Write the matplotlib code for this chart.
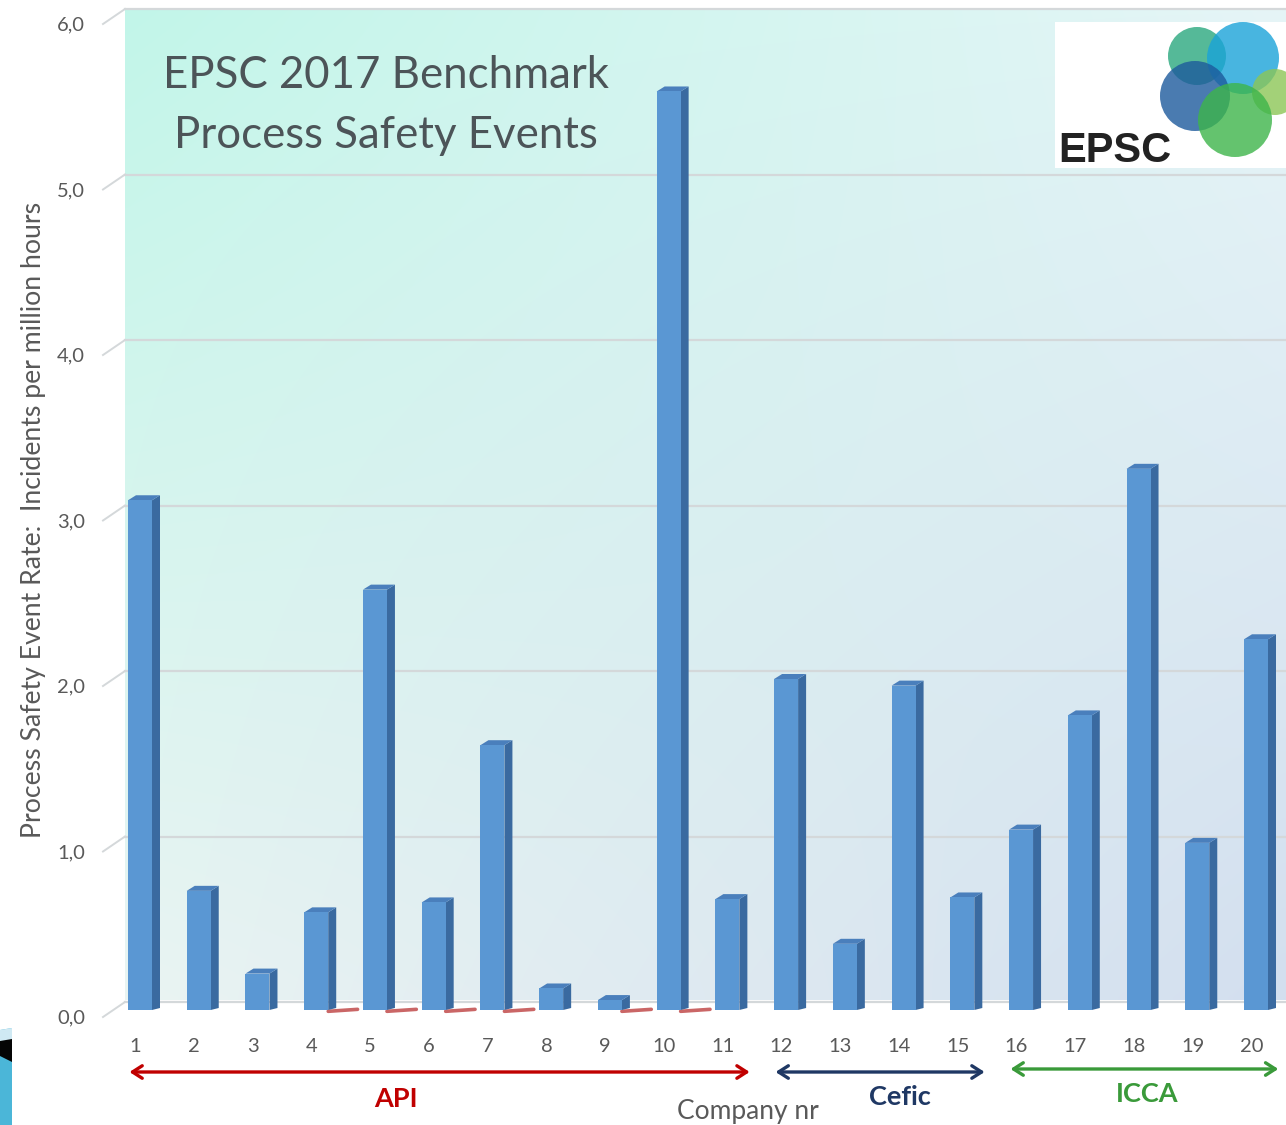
import matplotlib
matplotlib.use('Agg')
import matplotlib.pyplot as plt
import numpy as np
from matplotlib.patches import Rectangle, Polygon, Circle
from matplotlib.lines import Line2D
from matplotlib.transforms import offset_copy

# ---------------- data ----------------
companies = list(range(1, 21))
rates = [3.08, 0.72, 0.22, 0.59, 2.54, 0.65, 1.60, 0.13, 0.06, 5.55,
         0.67, 2.00, 0.40, 1.96, 0.68, 1.09, 1.78, 3.27, 1.01, 2.24]
yticks = [0, 1, 2, 3, 4, 5, 6]
ytick_labels = ['0,0', '1,0', '2,0', '3,0', '4,0', '5,0', '6,0']
groups = ['API', 'Cefic', 'ICCA']
group_first = [1, 12, 16]
group_last = [11, 15, 20]
group_colors = ['#c00000', '#1f3864', '#3a9a3a']
shadow_companies = [4, 5, 6, 7, 9, 10]

title_lines = ['EPSC 2017 Benchmark', 'Process Safety Events']
ylabel = 'Process Safety Event Rate:  Incidents per million hours'
xlabel = 'Company nr'

# ---------------- figure ----------------
W, H = 1286, 1125
fig = plt.figure(figsize=(W / 100, H / 100), dpi=100)
fig.patch.set_facecolor('white')
FONT = ['Lato', 'DejaVu Sans']
TXT = '#595959'

def fx(x):
    return x / W

def fy(y):
    return 1 - y / H

# main axes: zero at px 1010, 165.5 px per unit, back wall from x=125
ax = fig.add_axes([fx(125), fy(1010), fx(W - 125), (1010 - 8) / H])
ax.set_facecolor('none')
x0 = 1 - 15 / 58.74
x1 = 20 + 30 / 58.74
ytop = (1010 - 8) / 165.5
ax.set_xlim(x0, x1)
ax.set_ylim(0, ytop)
for s in ax.spines.values():
    s.set_visible(False)
ax.set_xticks([])
ax.set_yticks([])

# background gradient of the back wall
floor_v = (1010 - 1000) / 165.5
nx, ny = 200, 200
u = np.linspace(0, 1, nx)[None, :, None]
v = np.linspace(0, 1, ny)[:, None, None]  # 0 = top
TL = np.array([194, 246, 233]) / 255
TR = np.array([230, 245, 247]) / 255
BL = np.array([234, 244, 243]) / 255
BR = np.array([211, 223, 239]) / 255
grad = (TL * (1 - u) * (1 - v) + TR * u * (1 - v) + BL * (1 - u) * v + BR * u * v)
ax.imshow(grad, extent=[x0, x1, floor_v, ytop], aspect='auto', origin='upper',
          zorder=0, interpolation='bilinear')

# gridlines on the back wall (shifted up for depth)
tr_grid = offset_copy(ax.transData, fig=fig, x=0, y=8, units='dots')
for t in yticks:
    ax.plot([x0, x1], [t, t], color='#d4d8da', lw=1.6, transform=tr_grid,
            zorder=1, clip_on=False)

# y tick labels (front) and diagonal depth ticks
tr_ylab = offset_copy(ax.transData, fig=fig, x=-40, y=-8, units='dots')
fig.canvas.draw()
inv = fig.transFigure.inverted()
for t, lab in zip(yticks, ytick_labels):
    ax.text(x0, t, lab, transform=tr_ylab, ha='right', va='center',
            fontsize=14.5, color=TXT, family=FONT)
    p = ax.transData.transform((x0, t))
    a = inv.transform((p[0] - 22, p[1] - 7))
    b = inv.transform((p[0], p[1] + 8))
    fig.add_artist(Line2D([a[0], b[0]], [a[1], b[1]], color='#d4d8da', lw=1.4,
                          transform=fig.transFigure))

# 3D-looking bars
w = 24 / 58.74
dx = 8 / 58.74
dy = 5 / 165.5
c_front = '#5a97d3'
c_side = '#3a6aa0'
c_top = '#4a7fbc'

# red floor shadows next to some API bars
for c in shadow_companies:
    ax.plot([c + w / 2, c + w / 2 + 0.5], [-0.008, 0.004], color='#a80000', lw=2.6,
            alpha=0.6, solid_capstyle='round', zorder=2, clip_on=False)

for c, r in zip(companies, rates):
    l, rr = c - w / 2, c + w / 2
    ax.add_patch(Polygon([(rr, 0), (rr + dx, dy * 0.4), (rr + dx, r + dy), (rr, r)],
                         closed=True, facecolor=c_side, edgecolor='none', zorder=3))
    ax.add_patch(Polygon([(l, r), (rr, r), (rr + dx, r + dy), (l + dx, r + dy)],
                         closed=True, facecolor=c_top, edgecolor='none', zorder=3))
    ax.add_patch(Rectangle((l, 0), w, r, facecolor=c_front, edgecolor='none', zorder=4))

# x tick labels
tr_xlab = offset_copy(ax.transData, fig=fig, x=0, y=-36, units='dots')
for c in companies:
    ax.text(c - 0.08, 0, str(c), transform=tr_xlab, ha='center', va='center',
            fontsize=14.5, color=TXT, family=FONT, clip_on=False)

# group arrows and labels
arrow_dy = [-62, -62, -59]
label_dy = [-89, -87, -84]
label_shift = [-0.64, 0.44, 0.14]
for g, a, b, col, ady, ldy, sh in zip(groups, group_first, group_last, group_colors,
                                      arrow_dy, label_dy, label_shift):
    tra = offset_copy(ax.transData, fig=fig, x=0, y=ady, units='dots')
    ax.annotate('', xy=(b + 0.38, 0), xytext=(a - 0.18, 0), xycoords=tra, textcoords=tra,
                arrowprops=dict(arrowstyle='<->,head_length=0.7,head_width=0.45',
                                color=col, lw=2.4, shrinkA=0, shrinkB=0),
                annotation_clip=False)
    trl = offset_copy(ax.transData, fig=fig, x=0, y=ldy, units='dots')
    ax.text((a + b) / 2 + sh, 0, g, transform=trl, ha='center', va='center',
            fontsize=19.5, fontweight='bold', color=col, family=FONT, clip_on=False)

# axis titles
tr_xl = offset_copy(ax.transData, fig=fig, x=0, y=-101, units='dots')
ax.text(11.35, 0, xlabel, transform=tr_xl, ha='center', va='center',
        fontsize=19, color=TXT, family=FONT, clip_on=False)
fig.text(fx(34), fy(520), ylabel, rotation=90, ha='center', va='center',
         fontsize=19.2, color=TXT, family=FONT)

# chart title
fig.text(fx(386), fy(75), title_lines[0], ha='center', va='center',
         fontsize=31.5, color='#4c5458', family=FONT)
fig.text(fx(386), fy(135), title_lines[1], ha='center', va='center',
         fontsize=31.5, color='#4c5458', family=FONT)

# EPSC logo
lax = fig.add_axes([fx(1055), fy(168), fx(W - 1055), (168 - 22) / H])
lax.set_xlim(1055, W)
lax.set_ylim(168, 22)
lax.set_facecolor('white')
lax.set_xticks([])
lax.set_yticks([])
for s in lax.spines.values():
    s.set_visible(False)
circles = [((1197, 56), 29, '#2aa87e'), ((1243, 58), 36, '#1aa3d9'),
           ((1275, 92), 23, '#8cc656'), ((1195, 96), 35, '#1d5a9c'),
           ((1235, 120), 37, '#3db54a')]
for (cx, cy), rad, col in circles:
    lax.add_patch(Circle((cx, cy), rad, facecolor=col, edgecolor='none', alpha=0.8))
lax.text(1058, 151, 'EPSC', ha='left', va='center', fontsize=30, fontweight='bold',
         color='#222222', family=['Liberation Sans', 'DejaVu Sans'])

# bottom-left slide decoration
fig.add_artist(Polygon([(fx(0), fy(1030)), (fx(12), fy(1028)), (fx(12), fy(1125)), (fx(0), fy(1125))],
                       closed=True, facecolor='#4bb6d8', edgecolor='none', transform=fig.transFigure))
fig.add_artist(Polygon([(fx(0), fy(1030)), (fx(12), fy(1028)), (fx(12), fy(1040)), (fx(0), fy(1042))],
                       closed=True, facecolor='#cfe9f3', edgecolor='none', transform=fig.transFigure))
fig.add_artist(Polygon([(fx(0), fy(1041)), (fx(12), fy(1039)), (fx(12), fy(1062)), (fx(0), fy(1056))],
                       closed=True, facecolor='#050505', edgecolor='none', transform=fig.transFigure))

fig.savefig('out.png', dpi=100, facecolor='white')
